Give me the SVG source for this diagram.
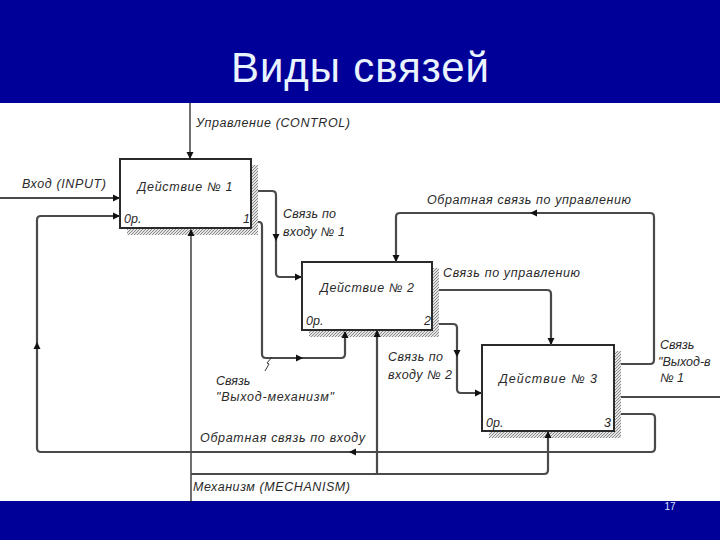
<svg xmlns="http://www.w3.org/2000/svg" xmlns:xlink="http://www.w3.org/1999/xlink" width="720" height="540" viewBox="0 0 720 540">
<style>
.lbl{font-family:"Liberation Sans",Arial,sans-serif;font-style:italic;font-size:12.5px;fill:#2a2a2a}
.box{fill:#fff;stroke:#2a2a2a;stroke-width:2}
.sh{fill:url(#hatch)}
.ln{fill:none;stroke:#4a4a4a;stroke-width:2.2;stroke-linejoin:round}
.thin{fill:none;stroke:#111;stroke-width:1.2}
.ah{fill:#111}
</style>
<defs>
<pattern id="hatch" width="3" height="3" patternUnits="userSpaceOnUse">
<rect width="3" height="3" fill="#e4e4e4"/>
<path d="M0,3 L3,0" stroke="#8a8a8a" stroke-width="1"/>
</pattern>
<path id="a" d="M0,0 L-7,-3.5 L-7,3.5 Z"/>
</defs>
<rect x="0" y="0" width="720" height="103" fill="#000099"/>
<rect x="0" y="103" width="720" height="399" fill="#fff"/>
<rect x="0" y="501" width="720" height="39" fill="#000099"/>
<text x="360" y="82" text-anchor="middle" font-family="'Liberation Sans',Arial,sans-serif" font-size="42" fill="#eaf4ff" textLength="258">Виды связей</text>
<text x="670" y="510" text-anchor="middle" font-family="'Liberation Sans',Arial,sans-serif" font-size="10" fill="#d8e4ff">17</text>

<g id="box1">
<rect class="sh" x="251" y="165" width="7" height="70"/>
<rect class="sh" x="127" y="228" width="131" height="7"/>
<rect class="box" x="120" y="159" width="131" height="69"/>
<text class="lbl" x="185" y="191" text-anchor="middle" textLength="95">Действие № 1</text>
<text class="lbl" x="124" y="223">0р.</text>
<text class="lbl" x="243" y="223">1</text>
</g>
<g id="box2">
<rect class="sh" x="432" y="268" width="7" height="69"/>
<rect class="sh" x="309" y="330" width="130" height="7"/>
<rect class="box" x="302" y="262" width="130" height="68"/>
<text class="lbl" x="367" y="292" text-anchor="middle" textLength="94">Действие № 2</text>
<text class="lbl" x="306" y="325">0р.</text>
<text class="lbl" x="424" y="325">2</text>
</g>
<g id="box3">
<rect class="sh" x="614" y="351" width="7" height="87"/>
<rect class="sh" x="489" y="431" width="132" height="7"/>
<rect class="box" x="482" y="345" width="132" height="86"/>
<text class="lbl" x="548" y="383" text-anchor="middle" textLength="98">Действие № 3</text>
<text class="lbl" x="486" y="427">0р.</text>
<text class="lbl" x="604" y="427">3</text>
</g>

<g id="connectors">
<path class="thin" d="M190,103 V159"/>
<path class="ln" d="M0,198 H120"/>
<path class="thin" d="M191,502 V230"/>
<path class="ln" d="M191,474 H544 Q548,474 548,470 V432"/>
<path class="ln" d="M377,474 V331"/>
<path class="ln" d="M258,191 H272 Q276,191 276,195 V273 Q276,277 280,277 H302"/>
<path class="ln" d="M258,222 H259 Q262,222 262,226 V354 Q262,358 266,358 H341 Q345,358 345,354 V332"/>
<path class="ln" d="M439,290 H547 Q551,290 551,294 V345"/>
<path class="ln" d="M439,324 H453 Q457,324 457,328 V389 Q457,393 461,393 H482"/>
<path class="ln" d="M621,364 H650 Q654,364 654,360 V217 Q654,213 650,213 H400 Q396,213 396,217 V262"/>
<path class="ln" d="M621,397 H720"/>
<path class="ln" d="M621,414 H651 Q655,414 655,418 V448 Q655,452 651,452 H41 Q37,452 37,448 V220 Q37,216 41,216 H120"/>
<path d="M265,371 L269,364 L267,363 L272,357" fill="none" stroke="#333" stroke-width="1"/>
<g class="ah">
<use xlink:href="#a" transform="translate(190,159) rotate(90)"/>
<use xlink:href="#a" transform="translate(120,198)"/>
<use xlink:href="#a" transform="translate(191,229) rotate(-90)"/>
<use xlink:href="#a" transform="translate(548,431) rotate(-90)"/>
<use xlink:href="#a" transform="translate(377,330) rotate(-90)"/>
<use xlink:href="#a" transform="translate(276,241) rotate(90)"/>
<use xlink:href="#a" transform="translate(302,277)"/>
<use xlink:href="#a" transform="translate(303,358)"/>
<use xlink:href="#a" transform="translate(345,331) rotate(-90)"/>
<use xlink:href="#a" transform="translate(551,345) rotate(90)"/>
<use xlink:href="#a" transform="translate(457,357) rotate(90)"/>
<use xlink:href="#a" transform="translate(482,393)"/>
<use xlink:href="#a" transform="translate(530,213) rotate(180)"/>
<use xlink:href="#a" transform="translate(396,262) rotate(90)"/>
<use xlink:href="#a" transform="translate(349,452) rotate(180)"/>
<use xlink:href="#a" transform="translate(37,342) rotate(-90)"/>
<use xlink:href="#a" transform="translate(120,216)"/>
</g>
</g>

<g id="labels">
<text class="lbl" x="196" y="127" textLength="154">Управление (CONTROL)</text>
<text class="lbl" x="22" y="188" textLength="84">Вход (INPUT)</text>
<text class="lbl" x="283" y="218" textLength="53">Связь по</text>
<text class="lbl" x="283" y="236" textLength="62">входу № 1</text>
<text class="lbl" x="427" y="204" textLength="204">Обратная связь по управлению</text>
<text class="lbl" x="443" y="277" textLength="137">Связь по управлению</text>
<text class="lbl" x="388" y="361" textLength="55">Связь по</text>
<text class="lbl" x="388" y="379" textLength="64">входу № 2</text>
<text class="lbl" x="660" y="349">Связь</text>
<text class="lbl" x="658" y="366">"Выход-в</text>
<text class="lbl" x="660" y="382">№ 1</text>
<text class="lbl" x="216" y="385">Связь</text>
<text class="lbl" x="216" y="401" textLength="118">"Выход-механизм"</text>
<text class="lbl" x="200" y="442" textLength="165">Обратная связь по входу</text>
<text class="lbl" x="193" y="491" textLength="157">Механизм (MECHANISM)</text>
</g>
</svg>
